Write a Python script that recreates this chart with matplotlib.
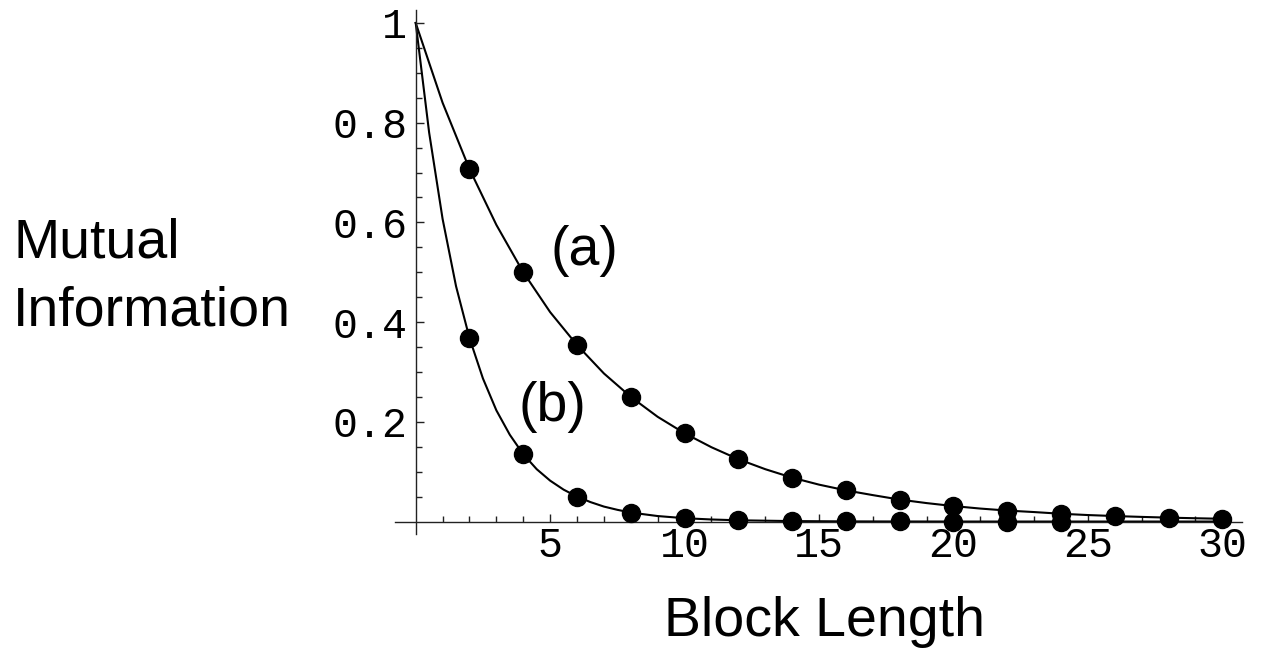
import matplotlib
matplotlib.use("Agg")
import matplotlib.pyplot as plt
from matplotlib.ticker import FixedLocator

# Data points
points_x_a = [2, 4, 6, 8, 10, 12, 14, 16, 18, 20, 22, 24, 26, 28, 30]
points_y_a = [0.707, 0.500, 0.354, 0.250, 0.177, 0.125, 0.088, 0.0625,
              0.044, 0.031, 0.022, 0.0156, 0.011, 0.0078, 0.0055]
points_x_b = [2, 4, 6, 8, 10, 12, 14, 16, 18, 20, 22, 24]
points_y_b = [0.368, 0.135, 0.050, 0.018, 0.0067, 0.0025, 0.0009,
              0.0003, 0.0001, 0.0, 0.0, 0.0]

# Curves
curve_x_a = [0, 1, 2, 3, 4, 5, 6, 7, 8, 9, 10, 11, 12, 13, 14, 15, 16, 17,
             18, 19, 20, 21, 22, 23, 24, 25, 26, 27, 28, 29, 30]
curve_y_a = [1.0, 0.84, 0.707, 0.595, 0.5, 0.42, 0.354, 0.297, 0.25, 0.21,
             0.177, 0.149, 0.125, 0.105, 0.088, 0.074, 0.0625, 0.053, 0.044,
             0.037, 0.031, 0.026, 0.022, 0.019, 0.0156, 0.013, 0.011, 0.0093,
             0.0078, 0.0066, 0.0055]
curve_x_b = [0, 0.5, 1, 1.5, 2, 2.5, 3, 3.5, 4, 4.5, 5, 5.5, 6, 6.5, 7, 7.5,
             8, 9, 10, 11, 12, 14, 16, 18, 20, 24, 30]
curve_y_b = [1.0, 0.78, 0.607, 0.472, 0.368, 0.287, 0.223, 0.174, 0.135,
             0.105, 0.082, 0.064, 0.050, 0.039, 0.030, 0.0235, 0.018, 0.011,
             0.0067, 0.0041, 0.0025, 0.0009, 0.0003, 0.0001, 0.0, 0.0, 0.0]

x_major = [5, 10, 15, 20, 25, 30]
x_minor = [v for v in range(1, 31) if v % 5 != 0]
y_major = [0.2, 0.4, 0.6, 0.8, 1.0]
y_major_labels = ["0.2", "0.4", "0.6", "0.8", "1"]
y_minor = [0.05, 0.1, 0.15, 0.25, 0.3, 0.35, 0.45, 0.5, 0.55, 0.65, 0.7,
           0.75, 0.85, 0.9, 0.95]

mono = "Liberation Mono"
sans = "Liberation Sans"

fig = plt.figure(figsize=(12.63, 6.62), dpi=100)
ax = fig.add_axes([395 / 1263, 1 - 534 / 662, 847 / 1263, 524 / 662])
ax.set_xlim(-0.77, 30.73)
ax.set_ylim(-0.025, 1.026)

ax.plot(curve_x_a, curve_y_a, color="black", lw=1.5, zorder=2)
ax.plot(curve_x_b, curve_y_b, color="black", lw=1.5, zorder=2)
ax.plot(points_x_a, points_y_a, "o", color="black", ms=13, zorder=3,
        clip_on=False)
ax.plot(points_x_b, points_y_b, "o", color="black", ms=13, zorder=3,
        clip_on=False)

for s in ["top", "right"]:
    ax.spines[s].set_visible(False)
ax.spines["left"].set_position(("data", 0))
ax.spines["bottom"].set_position(("data", 0))
for s in ["left", "bottom"]:
    ax.spines[s].set_linewidth(1.0)
    ax.spines[s].set_color("#222222")

ax.xaxis.set_major_locator(FixedLocator(x_major))
ax.xaxis.set_minor_locator(FixedLocator(x_minor))
ax.yaxis.set_major_locator(FixedLocator(y_major))
ax.yaxis.set_minor_locator(FixedLocator(y_minor))
ax.set_xticklabels([str(v) for v in x_major], fontfamily=mono, fontsize=30,
                   fontweight="light")
ax.set_yticklabels(y_major_labels, fontfamily=mono, fontsize=30,
                   fontweight="light")
ax.tick_params(axis="both", which="major", direction="in", length=6,
               width=1, color="#222222")
ax.tick_params(axis="both", which="minor", direction="in", length=4,
               width=1, color="#222222")
ax.tick_params(axis="x", which="major", pad=3)
ax.tick_params(axis="y", which="major", pad=6)

ax.text(6.29, 0.542, "(a)", fontfamily=sans, fontsize=40, ha="center",
        va="center")
ax.text(5.09, 0.229, "(b)", fontfamily=sans, fontsize=40, ha="center",
        va="center")

fig.text(13 / 1263, 1 - 278 / 662, "Mutual\nInformation", fontfamily=sans,
         fontsize=40, ha="left", va="center", linespacing=1.4)
fig.text(824 / 1263, 1 - 622 / 662, "Block Length", fontfamily=sans,
         fontsize=40, ha="center", va="center")

fig.savefig("out.png", dpi=100)
